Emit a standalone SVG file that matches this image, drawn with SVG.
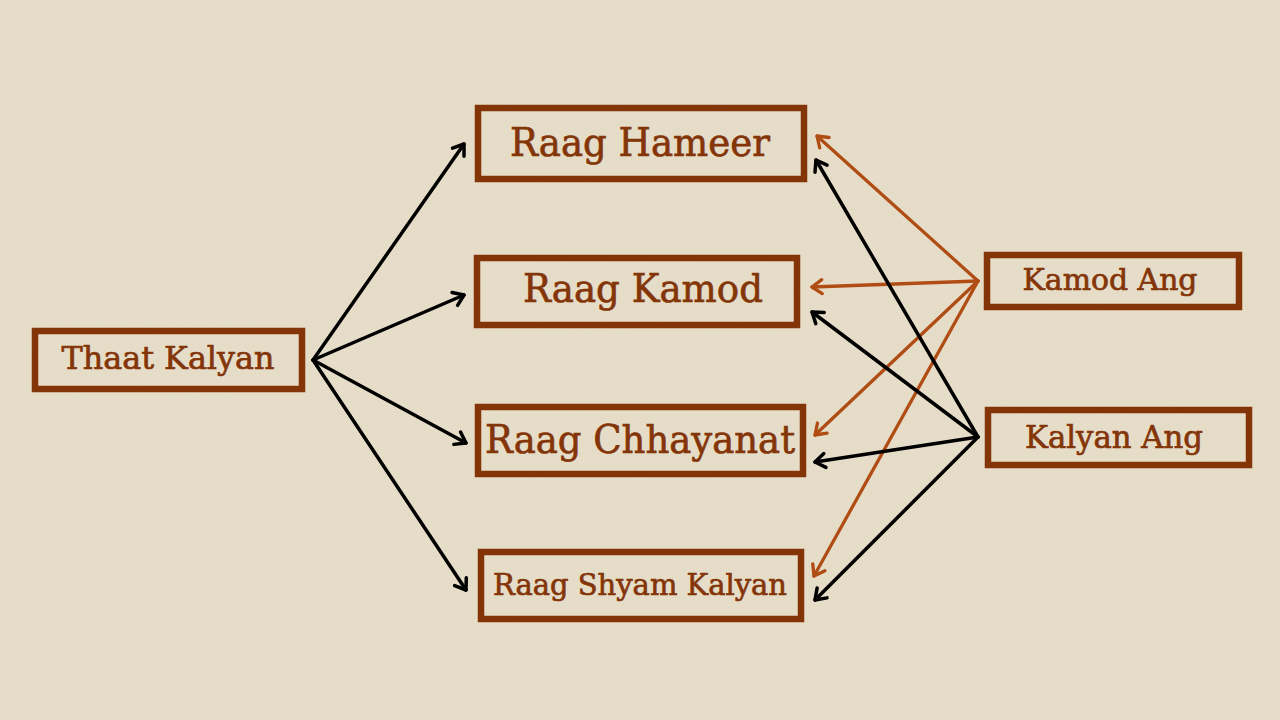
<svg xmlns="http://www.w3.org/2000/svg" width="1280" height="720" viewBox="0 0 1280 720">
<defs>
<style>
.box{fill:none;stroke:#843508;stroke-width:6.5}
.lbl{font-family:"DejaVu Serif","Liberation Serif",serif;fill:#843508;stroke:#843508;stroke-width:0.7;text-anchor:middle}
.blk{stroke:#000;stroke-width:3.5;fill:none;stroke-linecap:round;marker-end:url(#ab)}
.org{stroke:#b04d14;stroke-width:3.3;fill:none;stroke-linecap:round;marker-end:url(#ao)}
</style>
<marker id="ab" markerUnits="userSpaceOnUse" viewBox="-14 -10 18 20" markerWidth="18" markerHeight="20" refX="0" refY="0" orient="auto">
<path d="M-10,-7 L0,0 L-10,7" fill="none" stroke="#000" stroke-width="3.5" stroke-linecap="round" stroke-linejoin="round"/>
</marker>
<marker id="ao" markerUnits="userSpaceOnUse" viewBox="-14 -10 18 20" markerWidth="18" markerHeight="20" refX="0" refY="0" orient="auto">
<path d="M-10,-7 L0,0 L-10,7" fill="none" stroke="#b04d14" stroke-width="3.3" stroke-linecap="round" stroke-linejoin="round"/>
</marker>
<filter id="paper" x="0" y="0" width="100%" height="100%">
<feTurbulence type="fractalNoise" baseFrequency="0.8" numOctaves="3" seed="3"/>
<feColorMatrix type="matrix" values="0 0 0 0 0.55  0 0 0 0 0.48  0 0 0 0 0.35  0 0 0 0.12 0"/>
</filter>
</defs>
<rect width="1280" height="720" fill="#e8dfcb"/>
<rect width="1280" height="720" filter="url(#paper)"/>
<g id="connectors">
<line class="blk" x1="313" y1="360" x2="464" y2="144"/>
<line class="blk" x1="313" y1="360" x2="464" y2="295"/>
<line class="blk" x1="313" y1="360" x2="466" y2="443"/>
<line class="blk" x1="313" y1="360" x2="466" y2="590"/>
<line class="org" x1="978" y1="281" x2="817" y2="136"/>
<line class="org" x1="978" y1="281" x2="812" y2="287"/>
<line class="org" x1="978" y1="281" x2="815" y2="435"/>
<line class="org" x1="978" y1="281" x2="814" y2="576"/>
<line class="blk" x1="978" y1="437" x2="816" y2="160"/>
<line class="blk" x1="978" y1="437" x2="812" y2="312"/>
<line class="blk" x1="978" y1="437" x2="815" y2="462"/>
<line class="blk" x1="978" y1="437" x2="815" y2="600"/>
</g>
<g id="thaat-kalyan">
<rect class="box" x="35" y="331" width="267" height="58"/>
<text class="lbl" x="168" y="369" font-size="32" textLength="213" lengthAdjust="spacingAndGlyphs">Thaat Kalyan</text>
</g>
<g id="raag-hameer">
<rect class="box" x="478" y="108" width="326" height="71"/>
<text class="lbl" x="640" y="156" font-size="40" textLength="260" lengthAdjust="spacingAndGlyphs">Raag Hameer</text>
</g>
<g id="raag-kamod">
<rect class="box" x="477" y="258" width="320" height="67"/>
<text class="lbl" x="643" y="302" font-size="40" textLength="240" lengthAdjust="spacingAndGlyphs">Raag Kamod</text>
</g>
<g id="raag-chhayanat">
<rect class="box" x="478" y="407" width="325" height="67"/>
<text class="lbl" x="640" y="453" font-size="40" textLength="310" lengthAdjust="spacingAndGlyphs">Raag Chhayanat</text>
</g>
<g id="raag-shyam-kalyan">
<rect class="box" x="481" y="552" width="320" height="67"/>
<text class="lbl" x="640" y="595" font-size="30" textLength="294" lengthAdjust="spacingAndGlyphs">Raag Shyam Kalyan</text>
</g>
<g id="kamod-ang">
<rect class="box" x="987" y="255" width="252" height="52"/>
<text class="lbl" x="1110" y="290" font-size="30" textLength="175" lengthAdjust="spacingAndGlyphs">Kamod Ang</text>
</g>
<g id="kalyan-ang">
<rect class="box" x="988" y="410" width="261" height="55"/>
<text class="lbl" x="1114" y="448" font-size="31" textLength="178" lengthAdjust="spacingAndGlyphs">Kalyan Ang</text>
</g>
</svg>
